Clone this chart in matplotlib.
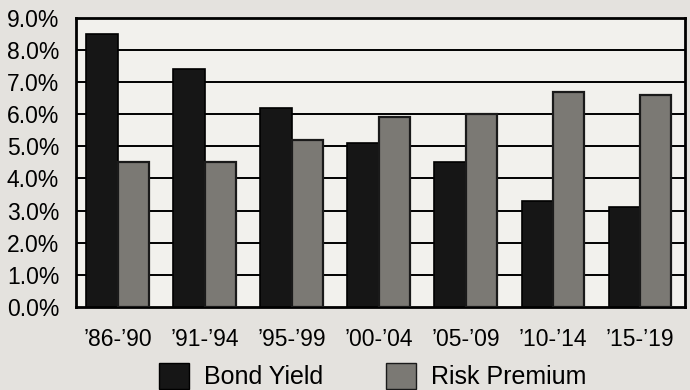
import matplotlib

matplotlib.use("Agg")
import matplotlib.pyplot as plt
import numpy as np
from matplotlib.patches import Rectangle

periods = ["\u201986-\u201990", "\u201991-\u201994", "\u201995-\u201999", "\u201900-\u201904",
           "\u201905-\u201909", "\u201910-\u201914", "\u201915-\u201919"]
bond_yield = [8.5, 7.4, 6.2, 5.1, 4.5, 3.3, 3.1]
risk_premium = [4.5, 4.5, 5.2, 5.9, 6.0, 6.7, 6.6]
y_ticks = [0, 1, 2, 3, 4, 5, 6, 7, 8, 9]

BOND = "#161616"
RISK = "#7b7974"
PAPER = "#e4e2de"
PLOT_BG = "#f2f1ed"

plt.rcParams["font.family"] = ["Liberation Sans", "DejaVu Sans"]

fig = plt.figure(figsize=(6.9, 3.9), dpi=100, facecolor=PAPER)
ax = fig.add_axes([0.110, 0.213, 0.883, 0.741], facecolor=PLOT_BG)

x = np.arange(len(periods))
w = 0.36
ax.bar(x - w / 2, bond_yield, w, color=BOND, edgecolor="black", lw=1.2, zorder=3)
ax.bar(x + w / 2, risk_premium, w, color=RISK, edgecolor="#1a1a1a", lw=1.6, zorder=3)

# horizontal rules at each percent, hidden behind the bars
for v in y_ticks[1:-1]:
    ax.axhline(v, color="black", lw=1.4, zorder=1)

ax.set_xlim(-0.48, 6.52)
ax.set_ylim(0, 9)
ax.set_yticks(y_ticks)
ax.set_yticklabels([f"{v:.1f}%" for v in y_ticks])
ax.set_xticks(x)
ax.set_xticklabels(periods)
ax.tick_params(axis="y", length=0, pad=12, labelsize=16.5)
ax.tick_params(axis="x", length=0, pad=15, labelsize=16.5)
for s in ax.spines.values():
    s.set_linewidth(2.0)
    s.set_color("black")

handles = [Rectangle((0, 0), 1, 1, fc=BOND, ec="black"),
           Rectangle((0, 0), 1, 1, fc=RISK, ec="#1a1a1a")]
fig.legend(handles, ["Bond Yield", "Risk Premium"], loc="center",
           bbox_to_anchor=(0.54, 0.035), ncol=2, frameon=False,
           fontsize=18, handlelength=1.2, handleheight=1.2,
           handletextpad=0.6, columnspacing=2.5)

fig.savefig("out.png", dpi=100, facecolor=PAPER)
